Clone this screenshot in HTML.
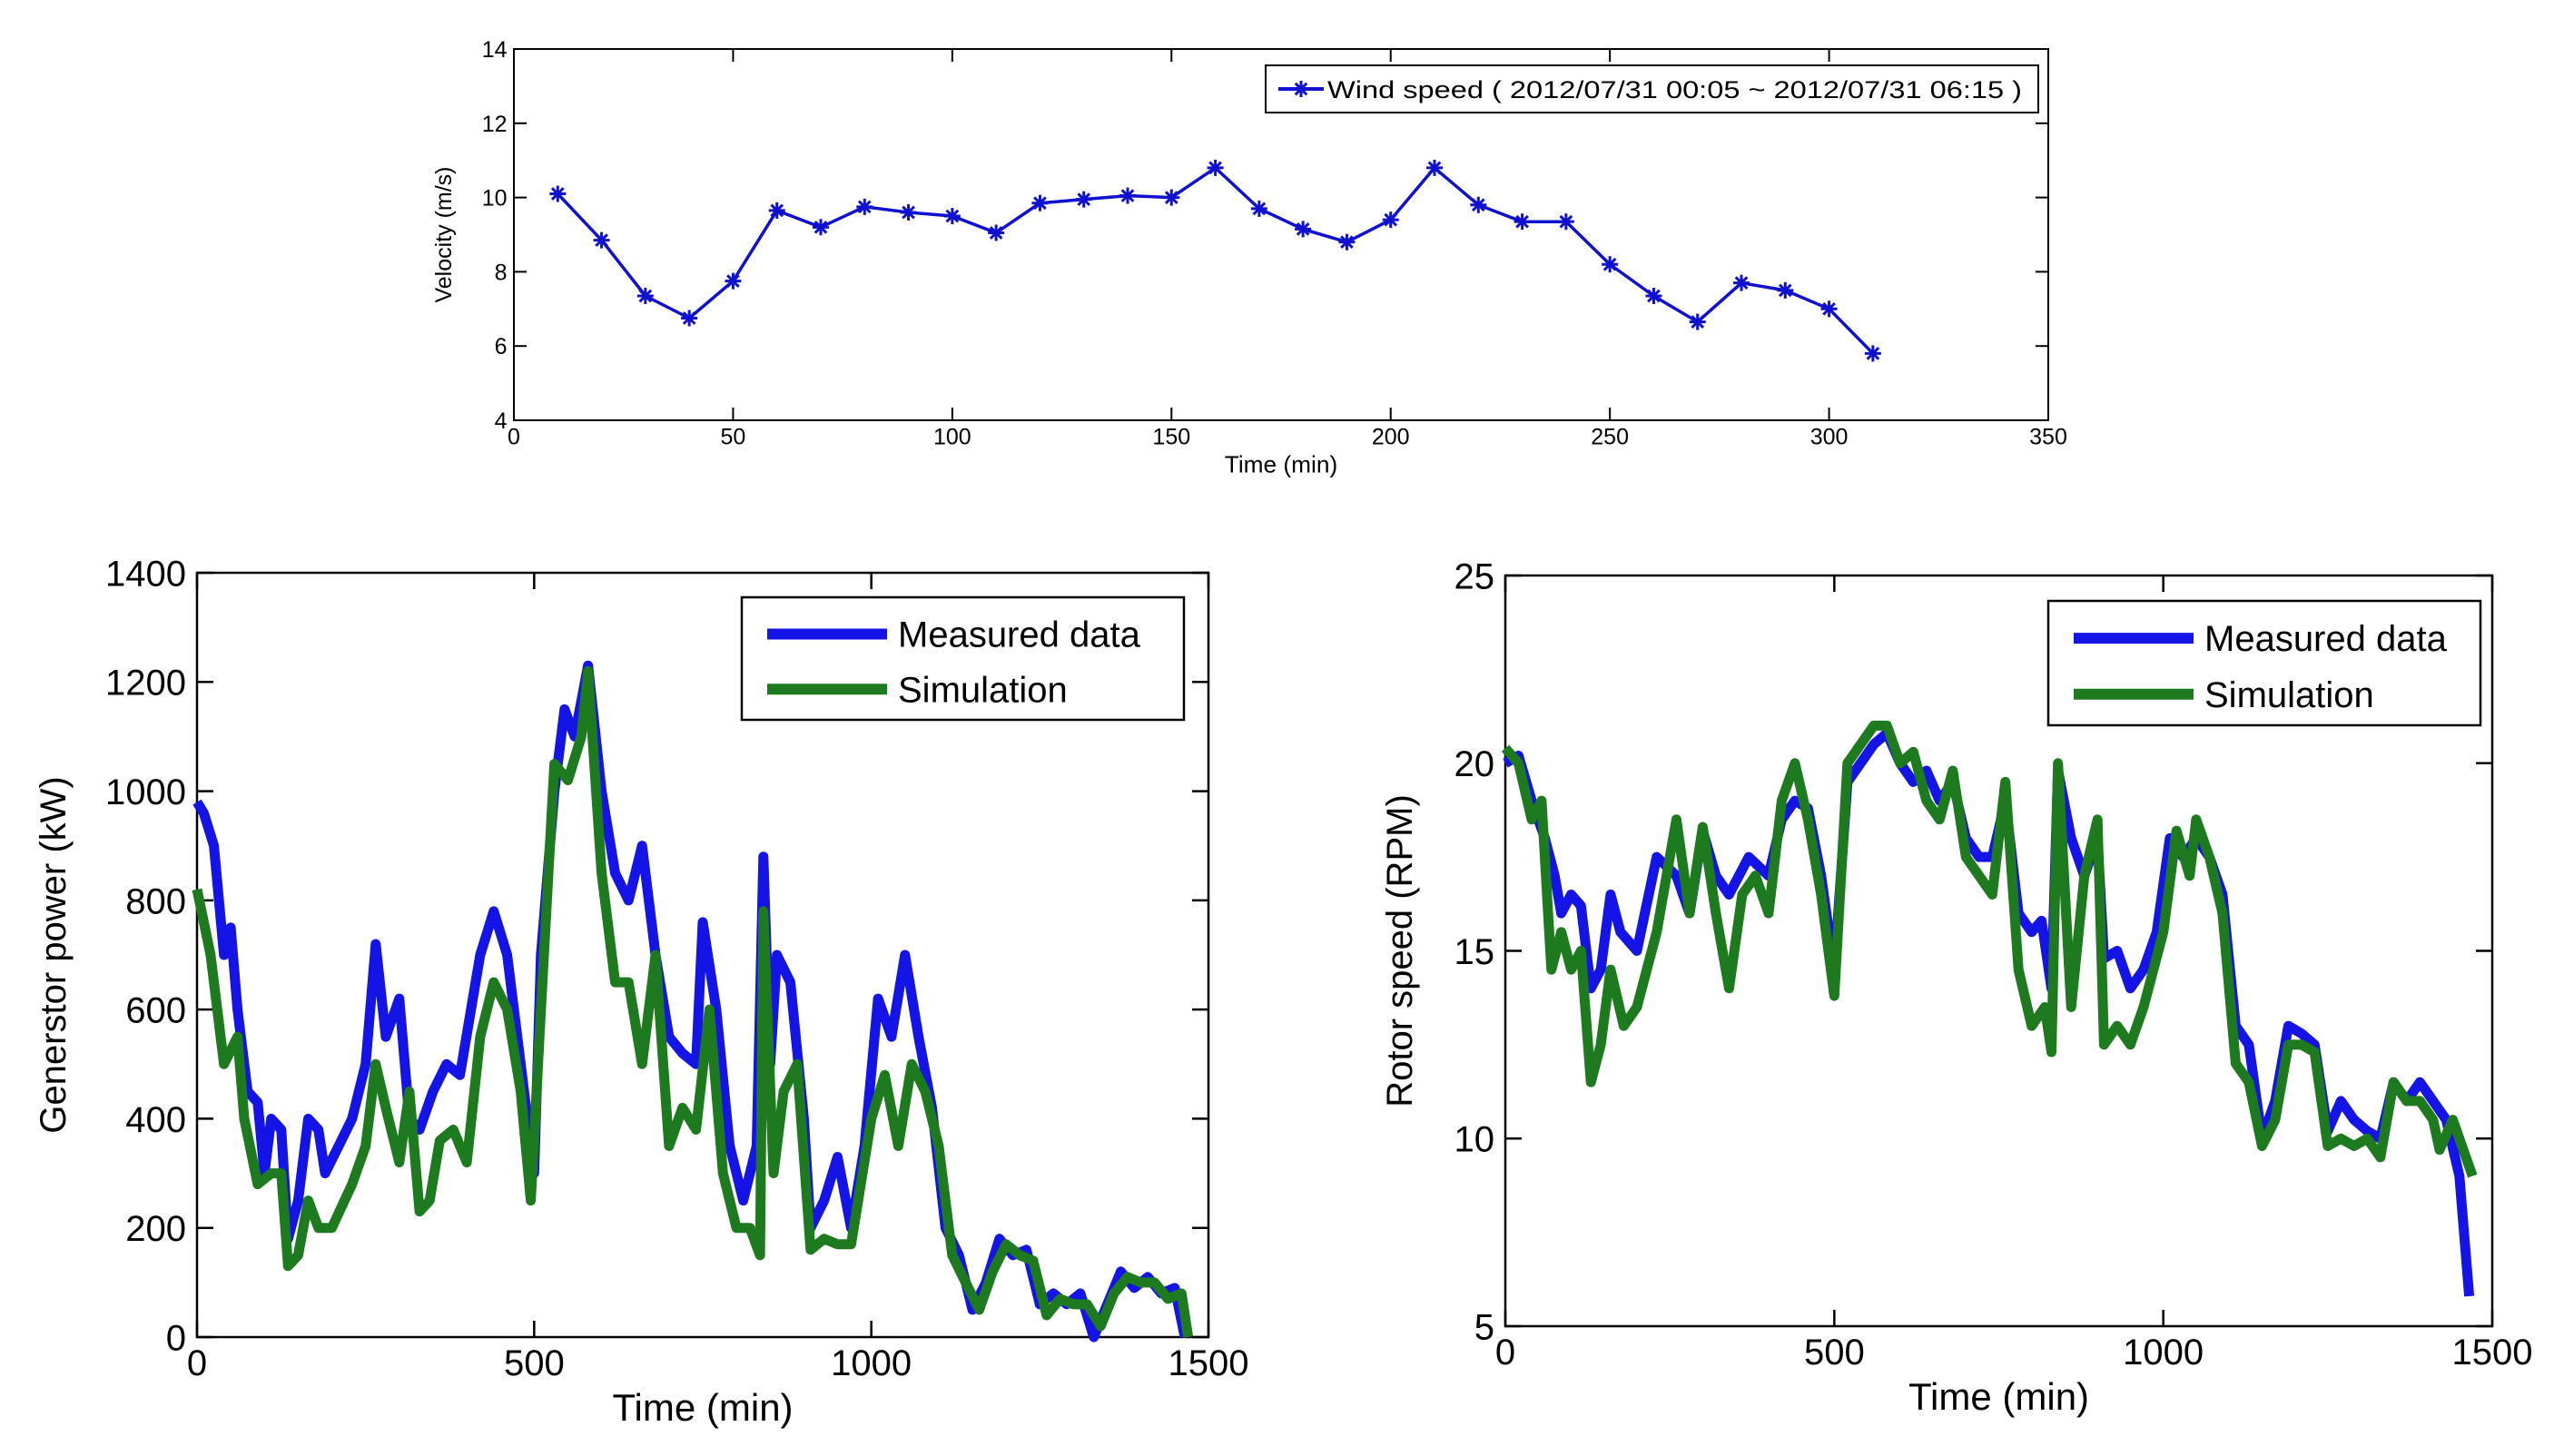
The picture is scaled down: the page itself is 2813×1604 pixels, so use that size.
<!DOCTYPE html>
<html><head><meta charset="utf-8"><style>
html,body{margin:0;padding:0;background:#fff;}
svg{display:block;font-family:"Liberation Sans",sans-serif;}
</style></head><body>
<svg id="fig" width="2813" height="1604" viewBox="0 0 2813 1604" xmlns="http://www.w3.org/2000/svg"></svg>
<script>
// ---- Top chart data ----
const windTimes=[10,20,30,40,50,60,70,80,90,100,110,120,130,140,150,160,170,180,190,200,210,220,230,240,250,260,270,280,290,300,310];
const windSpeed=[10.1,8.85,7.35,6.75,7.75,9.65,9.2,9.75,9.6,9.5,9.05,9.85,9.95,10.05,10.0,10.8,9.7,9.15,8.8,9.4,10.8,9.8,9.35,9.35,8.2,7.35,6.65,7.7,7.5,7.0,5.8];
const topXTicks=[0,50,100,150,200,250,300,350];
const topYTicks=[4,6,8,10,12,14];
// ---- Power chart data ----
const pMeasT=[0,10,25,40,50,60,75,90,100,110,125,135,150,165,180,190,210,230,250,265,280,300,315,330,350,370,390,420,440,460,480,500,510,530,545,560,580,600,620,640,660,680,700,720,740,750,770,790,810,830,840,850,860,880,900,910,930,950,970,990,1010,1030,1050,1070,1090,1110,1130,1150,1170,1190,1210,1230,1250,1270,1290,1310,1330,1350,1370,1390,1410,1430,1450,1465];
const pMeasV=[980,960,900,700,750,600,450,430,300,400,380,180,250,400,380,300,350,400,500,720,550,620,400,380,450,500,480,700,780,700,500,300,700,1000,1150,1100,1230,1000,850,800,900,700,550,520,500,760,600,350,250,350,880,500,700,650,400,200,250,330,200,350,620,550,700,550,420,200,150,50,100,180,150,160,60,80,60,80,0,60,120,90,110,80,90,0];
const pSimT=[0,20,40,60,70,90,110,125,135,150,165,180,200,230,250,265,280,300,315,330,345,360,380,400,420,440,460,480,495,510,530,550,570,580,600,620,640,660,680,700,720,740,760,780,800,820,835,840,855,870,890,910,930,950,970,1000,1020,1040,1060,1080,1100,1120,1140,1160,1180,1200,1220,1240,1260,1280,1300,1320,1340,1360,1380,1400,1420,1440,1460,1470];
const pSimV=[820,700,500,550,400,280,300,300,130,150,250,200,200,280,350,500,420,320,450,230,250,360,380,320,550,650,600,450,250,600,1050,1020,1100,1220,850,650,650,500,700,350,420,380,600,300,200,200,150,780,300,450,500,160,180,170,170,400,480,350,500,450,350,150,100,50,120,170,150,140,40,70,60,60,20,80,110,100,100,70,80,0];
const bXTicks=[0,500,1000,1500];
const pYTicks=[0,200,400,600,800,1000,1200,1400];
// ---- Rotor chart data ----
const rMeasT=[0,20,40,60,75,85,100,115,130,145,160,175,200,230,260,280,300,320,340,370,400,420,440,460,480,500,520,540,560,580,600,620,640,660,680,700,720,740,760,780,800,815,830,840,860,880,900,910,930,950,970,990,1010,1030,1050,1070,1090,1110,1130,1150,1170,1190,1210,1230,1250,1270,1290,1310,1330,1350,1370,1390,1410,1430,1450,1465];
const rMeasV=[20,20.2,19,18,17,16,16.5,16.2,14,14.5,16.5,15.5,15,17.5,17,16,18.2,17,16.5,17.5,17,18.5,19,18.8,17,14.5,19.5,20,20.5,20.8,20,19.5,19.8,19,19.5,18,17.5,17.5,19,16,15.5,15.8,14,19.8,18,17,18,14.8,15,14,14.5,15.5,18,17.5,18,17.5,16.5,13,12.5,10,11,13,12.8,12.5,10.2,11,10.5,10.2,10,11.5,11,11.5,11,10.5,9,5.8];
const rSimT=[0,20,40,55,70,85,100,115,130,145,160,180,200,230,260,280,300,320,340,360,380,400,420,440,460,480,500,520,540,560,580,600,620,640,660,680,700,720,740,760,780,800,820,830,840,860,880,900,910,930,950,970,1000,1020,1040,1050,1070,1090,1110,1130,1150,1170,1190,1210,1230,1250,1270,1290,1310,1330,1350,1370,1390,1410,1420,1440,1460,1470];
const rSimV=[20.4,20,18.5,19,14.5,15.5,14.5,15,11.5,12.5,14.5,13,13.5,15.5,18.5,16,18.3,16,14,16.5,17,16,19,20,18.5,16.5,13.8,20,20.5,21,21,20,20.3,19,18.5,19.8,17.5,17,16.5,19.5,14.5,13,13.5,12.3,20,13.5,17,18.5,12.5,13,12.5,13.5,15.5,18.2,17,18.5,17.5,16,12,11.5,9.8,10.5,12.5,12.5,12.3,9.8,10,9.8,10,9.5,11.5,11,11,10.5,9.7,10.5,9.5,9];
const rYTicks=[5,10,15,20,25];

const NS="http://www.w3.org/2000/svg";
const svg=document.getElementById('fig');
function mk(tag,attrs,parent){const e=document.createElementNS(NS,tag);for(const k in attrs)e.setAttribute(k,attrs[k]);(parent||svg).appendChild(e);return e;}
function txt(s,attrs,parent){const e=mk('text',attrs,parent);e.textContent=s;return e;}

function axes(o){
  const g=mk('g',{});
  
  
  const sx=v=>o.L+(v-o.x0)/(o.x1-o.x0)*(o.R-o.L);
  const sy=v=>o.B-(v-o.y0)/(o.y1-o.y0)*(o.B-o.T);
  const fr=mk('rect',{x:o.L,y:o.T,width:o.R-o.L,height:o.B-o.T,fill:'#fff',stroke:'#000','stroke-width':o.fw},g);
  
  
  o.xt.forEach(v=>{const x=sx(v);
    mk('line',{x1:x,x2:x,y1:o.B,y2:o.B-o.tl,stroke:'#000','stroke-width':o.fw},g);
    mk('line',{x1:x,x2:x,y1:o.T,y2:o.T+o.tl,stroke:'#000','stroke-width':o.fw},g);
    const t=txt(String(v),{x:x,y:o.B+o.fs*1.05,'font-size':o.fs,'text-anchor':'middle',fill:'#000'},g);
    
    
  });
  o.yt.forEach(v=>{const y=sy(v);
    mk('line',{x1:o.L,x2:o.L+o.tl,y1:y,y2:y,stroke:'#000','stroke-width':o.fw},g);
    mk('line',{x1:o.R,x2:o.R-o.tl,y1:y,y2:y,stroke:'#000','stroke-width':o.fw},g);
    const t=txt(String(v),{x:o.L-o.fs*0.3,y:y+o.fs*0.36,'font-size':o.fs,'text-anchor':'end',fill:'#000'},g);
    
    
  });
  const xl=txt(o.xlabel,{x:(o.L+o.R)/2,y:o.B+o.fs*2.3,'font-size':o.fs*1.05,'text-anchor':'middle',fill:'#000'},g);
  
  
  const yx=o.ylx, yy=(o.T+o.B)/2;
  const yl=txt(o.ylabel,{x:yx,y:yy,'font-size':o.fs*1.0,'text-anchor':'middle',fill:'#000',transform:`rotate(-90 ${yx} ${yy})`},g);
  
  
  return {g,sx,sy};
}
function series(ax,xs,ys,color,w,name){
  const d=xs.map((x,i)=>(i?'L':'M')+ax.sx(x).toFixed(1)+' '+ax.sy(ys[i]).toFixed(1)).join(' ');
  const p=mk('path',{d:d,fill:'none',stroke:color,'stroke-width':w,'stroke-linejoin':'round'},ax.g);
  
  
  return p;
}
function star(g,x,y,s,c){
  mk('line',{x1:x-s,x2:x+s,y1:y,y2:y,stroke:c,'stroke-width':3},g);
  mk('line',{x1:x,x2:x,y1:y-s,y2:y+s,stroke:c,'stroke-width':3},g);
  mk('line',{x1:x-s*0.7,x2:x+s*0.7,y1:y-s*0.7,y2:y+s*0.7,stroke:c,'stroke-width':3},g);
  mk('line',{x1:x-s*0.7,x2:x+s*0.7,y1:y+s*0.7,y2:y-s*0.7,stroke:c,'stroke-width':3},g);
}

// Top chart
const A=axes({name:'wind-speed-chart',L:566,R:2256,T:54,B:463,x0:0,x1:350,y0:4,y1:14,xt:topXTicks,yt:topYTicks,fs:25,tl:14,fw:2,xlabel:'Time (min)',ylabel:'Velocity (m/s)',ylx:497});
series(A,windTimes,windSpeed,'#1010d0',3.5,'wind-speed-line');
const mg=mk('g',{},A.g);


windTimes.forEach((t,i)=>star(mg,A.sx(t),A.sy(windSpeed[i]),9,'#1010d0'));
const lg=mk('g',{},A.g);


mk('rect',{x:1394,y:72,width:851,height:52,fill:'#fff',stroke:'#000','stroke-width':2},lg);
mk('line',{x1:1408,x2:1458,y1:98,y2:98,stroke:'#1010d0','stroke-width':4},lg);
star(lg,1433,98,9,'#1010d0');
txt('Wind speed ( 2012/07/31 00:05 ~ 2012/07/31 06:15 )',{x:1462,y:108,'font-size':27,fill:'#000',textLength:765,lengthAdjust:'spacingAndGlyphs'},lg);

// Power chart
const B=axes({name:'generator-power-chart',L:217,R:1331,T:631,B:1473,x0:0,x1:1500,y0:0,y1:1400,xt:bXTicks,yt:pYTicks,fs:40,tl:18,fw:2.5,xlabel:'Time (min)',ylabel:'Generstor power (kW)',ylx:72});
series(B,pMeasT,pMeasV,'#1414e6',11,'measured-power-line');
series(B,pSimT,pSimV,'#1e7a1e',11,'simulated-power-line');
function legend2(ax,x,y,w,h){
  const g=mk('g',{},ax.g);
  
  
  mk('rect',{x:x,y:y,width:w,height:h,fill:'#fff',stroke:'#000','stroke-width':2.5},g);
  mk('line',{x1:x+28,x2:x+160,y1:y+h*0.3,y2:y+h*0.3,stroke:'#1414e6','stroke-width':12},g);
  mk('line',{x1:x+28,x2:x+160,y1:y+h*0.75,y2:y+h*0.75,stroke:'#1e7a1e','stroke-width':12},g);
  const a=txt('Measured data',{x:x+172,y:y+h*0.3+14,'font-size':40,fill:'#000'},g);
  
  
  const b=txt('Simulation',{x:x+172,y:y+h*0.75+14,'font-size':40,fill:'#000'},g);
  
  
}
legend2(B,817,658,487,135);

// Rotor chart
const C=axes({name:'rotor-speed-chart',L:1658,R:2745,T:634,B:1461,x0:0,x1:1500,y0:5,y1:25,xt:bXTicks,yt:rYTicks,fs:40,tl:18,fw:2.5,xlabel:'Time (min)',ylabel:'Rotor speed (RPM)',ylx:1555});
series(C,rMeasT,rMeasV,'#1414e6',11,'measured-rotor-line');
series(C,rSimT,rSimV,'#1e7a1e',11,'simulated-rotor-line');
legend2(C,2256,662,476,137);
</script>
</body></html>
